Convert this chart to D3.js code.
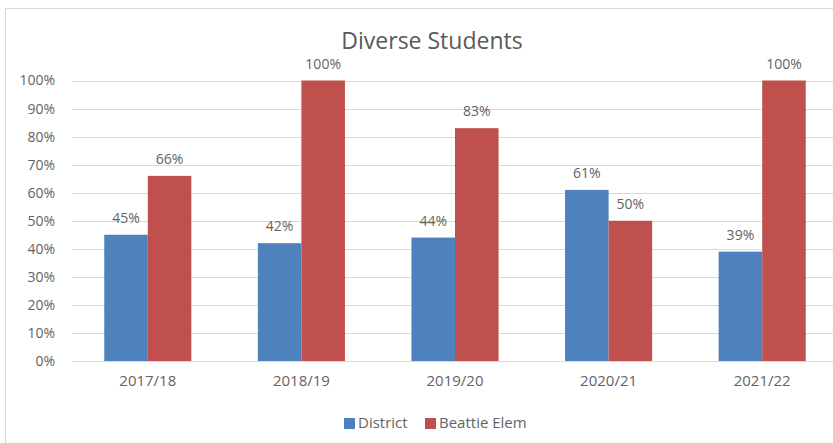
<!DOCTYPE html>
<html><head><meta charset="utf-8">
<script src="https://cdn.jsdelivr.net/npm/d3@7"></script>
<style>
html,body{margin:0;padding:0;background:#fff;}
svg{display:block;font-family:"Open Sans",sans-serif;}
</style></head>
<body><svg id="c" width="833" height="443"></svg>
<script>
const categories = ["2017/18","2018/19","2019/20","2020/21","2021/22"];
const seriesNames = ["District","Beattie Elem"];
const district = [45,42,44,61,39];
const beattie = [66,100,83,50,100];
const yTicks = [0,10,20,30,40,50,60,70,80,90,100];
const colors = ["#4f81bd","#c0504d"];
const title = "Diverse Students";

const svg = d3.select("#c");
const textColor = "#636363";
const plot = {left:71, right:839, top:80.5, bottom:361};

svg.append("rect").attr("x",5.5).attr("y",8.5).attr("width",900).attr("height",460)
  .attr("fill","#fff").attr("stroke","#d9d9d9");

const y = d3.scaleLinear().domain([0,100]).range([plot.bottom, plot.top]);
const x0 = d3.scaleBand().domain(categories).range([plot.left, plot.right])
  .paddingInner(0.433).paddingOuter(0.2165);
const x1 = d3.scaleBand().domain(seriesNames).range([0, x0.bandwidth()]);

// gridlines
svg.append("g").selectAll("line").data(yTicks).join("line")
  .attr("x1",plot.left+1).attr("x2",833)
  .attr("y1",d=>Math.round(y(d))+0.5).attr("y2",d=>Math.round(y(d))+0.5)
  .attr("stroke","#d9d9d9").attr("stroke-width",1);

// y axis labels
const yAxis = d3.axisLeft(y).tickValues(yTicks).tickFormat(d=>d+"%").tickSize(0).tickPadding(0);
const ga = svg.append("g").attr("transform",`translate(55,0)`).call(yAxis);
ga.select(".domain").remove();
ga.selectAll("text").attr("fill",textColor).style("font-size","14px").style("font-family","Open Sans");

// x axis labels
const xAxis = d3.axisBottom(x0).tickSize(0).tickPadding(0);
const gx = svg.append("g").attr("transform",`translate(0,375)`).call(xAxis);
gx.select(".domain").remove();
gx.selectAll("text").attr("fill",textColor).style("font-size","15px").style("font-family","Open Sans");

const data = categories.map((c,i)=>({cat:c, vals:[district[i], beattie[i]]}));
const groups = svg.append("g").selectAll("g").data(data).join("g")
  .attr("transform",d=>`translate(${x0(d.cat)},0)`);
groups.selectAll("rect").data(d=>d.vals.map((v,j)=>({v, s:seriesNames[j], j}))).join("rect")
  .attr("x",d=>x1(d.s)).attr("width",x1.bandwidth())
  .attr("y",d=>y(d.v)).attr("height",d=>plot.bottom-y(d.v))
  .attr("fill",d=>colors[d.j]);
groups.selectAll("text").data(d=>d.vals.map((v,j)=>({v, s:seriesNames[j], j}))).join("text")
  .attr("x",d=>x1(d.s)+x1.bandwidth()/2).attr("y",d=>y(d.v)-12)
  .attr("text-anchor","middle").attr("fill",textColor)
  .style("font-size","14px").text(d=>d.v+"%");

// title
svg.append("text").attr("x",432).attr("y",48.5).attr("text-anchor","middle")
  .attr("fill","#5a5a5a").style("font-size","23px").text(title);

// legend
const legX = [344, 425];
const lg = svg.append("g").selectAll("g").data(seriesNames).join("g")
  .attr("transform",(d,i)=>`translate(${legX[i]},418)`);
lg.append("rect").attr("width",11).attr("height",11).attr("fill",(d,i)=>colors[i]);
lg.append("text").attr("x",14).attr("y",10).attr("fill",textColor)
  .style("font-size","15px").text(d=>d);
</script></body></html>
